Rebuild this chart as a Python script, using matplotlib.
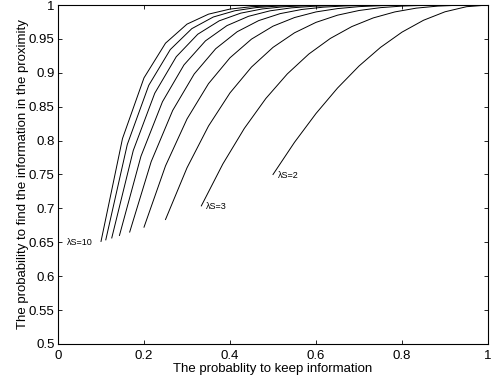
import matplotlib
matplotlib.use("Agg")
import matplotlib.pyplot as plt

plt.rcParams['font.family'] = ['Liberation Sans', 'DejaVu Sans']

# lambda*S values and curves
ls_values = [2, 3, 4, 5, 6, 7, 8, 9, 10]

p2 = [0.5, 0.55, 0.6, 0.65, 0.7, 0.75, 0.8, 0.85, 0.9, 0.95, 1.0]
y2 = [0.75, 0.7975, 0.84, 0.8775, 0.91, 0.9375, 0.96, 0.9775, 0.99, 0.9975, 1.0]

p3 = [0.3333, 0.3833, 0.4333, 0.4833, 0.5333, 0.5833, 0.6333, 0.6833, 0.7333,
      0.7833, 0.8333, 0.8833, 0.9333, 0.9833]
y3 = [0.7037, 0.7655, 0.8180, 0.8621, 0.8984, 0.9277, 0.9507, 0.9682, 0.9810,
      0.9898, 0.9954, 0.9984, 0.9997, 1.0]

p4 = [0.25, 0.3, 0.35, 0.4, 0.45, 0.5, 0.55, 0.6, 0.65, 0.7, 0.75, 0.8, 0.85,
      0.9, 0.95, 1.0]
y4 = [0.6836, 0.7599, 0.8215, 0.8704, 0.9085, 0.9375, 0.9590, 0.9744, 0.9850,
      0.9919, 0.9961, 0.9984, 0.9995, 0.9999, 1.0, 1.0]

p5 = [0.2, 0.25, 0.3, 0.35, 0.4, 0.45, 0.5, 0.55, 0.6, 0.65, 0.7, 0.75, 0.8,
      0.85, 0.9, 0.95, 1.0]
y5 = [0.6723, 0.7627, 0.8319, 0.8840, 0.9222, 0.9497, 0.9688, 0.9815, 0.9898,
      0.9947, 0.9976, 0.9990, 0.9997, 0.9999, 1.0, 1.0, 1.0]

p6 = [0.1667, 0.2167, 0.2667, 0.3167, 0.3667, 0.4167, 0.4667, 0.5167, 0.5667,
      0.6167, 0.6667, 0.7167, 0.7667, 0.8167, 0.8667, 0.9167, 0.9667]
y6 = [0.6651, 0.7690, 0.8445, 0.8982, 0.9355, 0.9606, 0.9770, 0.9873, 0.9934,
      0.9968, 0.9986, 0.9995, 0.9998, 1.0, 1.0, 1.0, 1.0]

p7 = [0.1429, 0.1929, 0.2429, 0.2929, 0.3429, 0.3929, 0.4429, 0.4929, 0.5429,
      0.5929, 0.6429, 0.6929, 0.7429, 0.7929, 0.8429, 0.8929, 0.9429, 0.9929]
y7 = [0.6601, 0.7769, 0.8573, 0.9116, 0.9471, 0.9696, 0.9833, 0.9914, 0.9958,
      0.9981, 0.9993, 0.9997, 1.0, 1.0, 1.0, 1.0, 1.0, 1.0]

p8 = [0.125, 0.175, 0.225, 0.275, 0.325, 0.375, 0.425, 0.475, 0.525, 0.575,
      0.625, 0.675, 0.725, 0.775, 0.825, 0.875, 0.925, 0.975]
y8 = [0.6564, 0.7854, 0.8699, 0.9237, 0.9569, 0.9767, 0.9880, 0.9942, 0.9974,
      0.9989, 0.9996, 0.9999, 1.0, 1.0, 1.0, 1.0, 1.0, 1.0]

p9 = [0.1111, 0.1611, 0.2111, 0.2611, 0.3111, 0.3611, 0.4111, 0.4611, 0.5111,
      0.5611, 0.6111, 0.6611, 0.7111, 0.7611, 0.8111, 0.8611, 0.9111, 0.9611]
y9 = [0.6536, 0.7942, 0.8816, 0.9343, 0.9651, 0.9823, 0.9915, 0.9962, 0.9984,
      0.9994, 0.9998, 1.0, 1.0, 1.0, 1.0, 1.0, 1.0, 1.0]

p10 = [0.1, 0.15, 0.2, 0.25, 0.3, 0.35, 0.4, 0.45, 0.5, 0.55, 0.6, 0.65, 0.7,
       0.75, 0.8, 0.85, 0.9, 0.95, 1.0]
y10 = [0.6513, 0.8031, 0.8926, 0.9437, 0.9718, 0.9865, 0.9940, 0.9975, 0.9990,
       0.9997, 0.9999, 1.0, 1.0, 1.0, 1.0, 1.0, 1.0, 1.0, 1.0]

curves = [(p2, y2), (p3, y3), (p4, y4), (p5, y5), (p6, y6), (p7, y7),
          (p8, y8), (p9, y9), (p10, y10)]

# curve labels: (text, x, y)
labels = [("λS=10", 0.02, 0.649), ("λS=3", 0.343, 0.7025), ("λS=2", 0.511, 0.748)]

xticks = [0, 0.2, 0.4, 0.6, 0.8, 1]
xticklabels = ["0", "0.2", "0.4", "0.6", "0.8", "1"]
yticks = [0.5, 0.55, 0.6, 0.65, 0.7, 0.75, 0.8, 0.85, 0.9, 0.95, 1]
yticklabels = ["0.5", "0.55", "0.6", "0.65", "0.7", "0.75", "0.8", "0.85", "0.9", "0.95", "1"]

fig = plt.figure(figsize=(4.92, 3.82), dpi=100)
ax = fig.add_axes([0.1179, 0.0995, 0.874, 0.8874])

for p, y in curves:
    ax.plot(p, y, color="black", linewidth=0.7)

for txt, x, y in labels:
    ax.text(x, y, txt, fontsize=6.5, va="center", ha="left")

ax.set_xlim(0, 1)
ax.set_ylim(0.5, 1)
ax.set_xticks(xticks)
ax.set_xticklabels(xticklabels)
ax.set_yticks(yticks)
ax.set_yticklabels(yticklabels)
ax.tick_params(direction="in", top=True, right=True, length=3, width=0.6,
               labelsize=9.5)
ax.tick_params(axis="x", pad=4.5)
ax.tick_params(axis="y", pad=2.5)
for s in ax.spines.values():
    s.set_linewidth(0.8)

ax.set_xlabel("The probablity to keep information", fontsize=9.5, labelpad=0.5)
ax.set_ylabel("The probability to find the information in the proximity",
              fontsize=9.5, labelpad=0)

fig.savefig("out.png", dpi=100)
